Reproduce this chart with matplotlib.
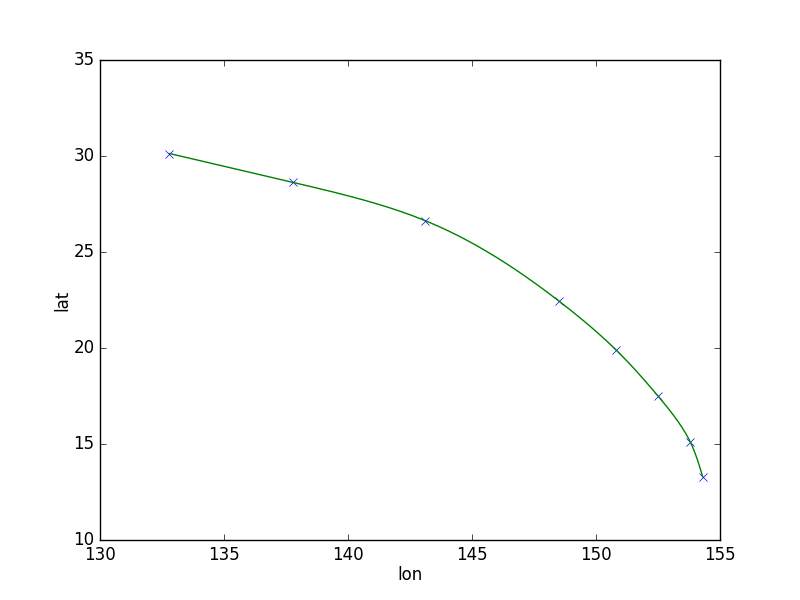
import numpy as np
import matplotlib
matplotlib.use("Agg")
import matplotlib.pyplot as plt

plt.style.use("classic")

# track points
lon = [132.8, 137.8, 143.1, 148.5, 150.8, 152.5, 153.8, 154.3]
lat = [30.13, 28.62, 26.64, 22.45, 19.91, 17.50, 15.11, 13.30]


def _natural_spline(t, y, tt):
    # natural cubic spline through (t, y), evaluated at tt
    n = len(t)
    h = np.diff(t)
    A = np.zeros((n, n))
    b = np.zeros(n)
    A[0, 0] = 1.0
    A[-1, -1] = 1.0
    for i in range(1, n - 1):
        A[i, i - 1] = h[i - 1]
        A[i, i] = 2.0 * (h[i - 1] + h[i])
        A[i, i + 1] = h[i]
        b[i] = 3.0 * ((y[i + 1] - y[i]) / h[i] - (y[i] - y[i - 1]) / h[i - 1])
    c = np.linalg.solve(A, b)
    out = np.empty_like(tt)
    for k, v in enumerate(tt):
        i = min(np.searchsorted(t, v, side="right") - 1, n - 2)
        i = max(i, 0)
        dx = v - t[i]
        bb = (y[i + 1] - y[i]) / h[i] - h[i] * (2 * c[i] + c[i + 1]) / 3.0
        dd = (c[i + 1] - c[i]) / (3.0 * h[i])
        out[k] = y[i] + bb * dx + c[i] * dx ** 2 + dd * dx ** 3
    return out


x = np.array(lon)
y = np.array(lat)
t = np.concatenate([[0.0], np.cumsum(np.hypot(np.diff(x), np.diff(y)))])
tt = np.linspace(0, t[-1], 400)
xs = _natural_spline(t, x, tt)
ys = _natural_spline(t, y, tt)

fig, ax = plt.subplots(figsize=(8, 6), dpi=100)
ax.plot(x, y, "x", color="b", markersize=6)
ax.plot(xs, ys, "-", color="g")
ax.set_xlim(130, 155)
ax.set_ylim(10, 35)
ax.set_xlabel("lon", labelpad=1.5)
ax.set_ylabel("lat", labelpad=1.5)
fig.savefig("out.png", dpi=100)
